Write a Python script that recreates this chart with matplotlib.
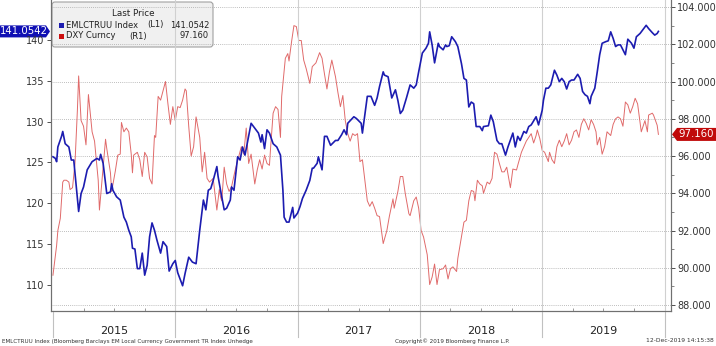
import matplotlib

matplotlib.use("Agg")
import matplotlib.pyplot as plt
from matplotlib.patches import FancyBboxPatch, Polygon
from matplotlib.ticker import FixedLocator, FormatStrFormatter, MultipleLocator

# weekly-ish readings, x in decimal years
emlctruu = [
    (2015.00, 125.7), (2015.02, 125.5), (2015.03, 125.1), (2015.04, 126.9), (2015.07, 128.2),
    (2015.08, 128.8), (2015.10, 127.3), (2015.13, 126.9), (2015.15, 125.3), (2015.17, 125.3),
    (2015.21, 119.0), (2015.23, 121.2), (2015.25, 122.0), (2015.28, 124.1), (2015.32, 125.1),
    (2015.36, 125.5), (2015.38, 125.3), (2015.39, 126.0), (2015.41, 124.9), (2015.44, 121.2),
    (2015.47, 121.4), (2015.48, 122.4), (2015.49, 121.6), (2015.52, 120.8), (2015.55, 120.4),
    (2015.58, 118.3), (2015.60, 117.7), (2015.62, 116.7), (2015.64, 115.9), (2015.65, 114.5),
    (2015.67, 114.4), (2015.69, 112.0), (2015.71, 112.0), (2015.73, 113.9), (2015.75, 111.2),
    (2015.77, 112.4), (2015.79, 115.9), (2015.81, 117.6), (2015.83, 116.7), (2015.85, 115.5),
    (2015.88, 113.9), (2015.90, 115.3), (2015.93, 114.7), (2015.95, 111.7), (2015.98, 112.6),
    (2016.00, 113.0), (2016.02, 111.5), (2016.06, 109.9), (2016.08, 111.4), (2016.11, 113.4),
    (2016.14, 112.8), (2016.17, 112.6), (2016.20, 116.7), (2016.23, 120.4), (2016.25, 119.2),
    (2016.27, 121.6), (2016.29, 121.8), (2016.31, 122.8), (2016.34, 124.5), (2016.35, 123.3),
    (2016.37, 121.6), (2016.40, 119.2), (2016.42, 119.4), (2016.45, 120.4), (2016.46, 122.0),
    (2016.48, 121.6), (2016.51, 125.7), (2016.53, 125.3), (2016.55, 126.9), (2016.57, 125.9),
    (2016.60, 128.2), (2016.62, 129.8), (2016.65, 129.2), (2016.68, 128.6), (2016.70, 127.5),
    (2016.71, 128.4), (2016.73, 126.7), (2016.75, 129.0), (2016.77, 128.6), (2016.80, 127.3),
    (2016.83, 126.9), (2016.86, 125.9), (2016.88, 121.6), (2016.89, 118.3), (2016.91, 117.7),
    (2016.93, 117.7), (2016.96, 119.5), (2016.97, 118.2), (2017.00, 118.8), (2017.02, 119.6),
    (2017.04, 120.6), (2017.07, 121.6), (2017.10, 122.8), (2017.12, 124.3), (2017.13, 124.3),
    (2017.16, 124.9), (2017.17, 125.7), (2017.20, 124.1), (2017.22, 128.2), (2017.24, 128.2),
    (2017.27, 127.1), (2017.31, 127.7), (2017.33, 127.7), (2017.36, 128.4), (2017.38, 129.0),
    (2017.40, 128.4), (2017.41, 129.8), (2017.46, 130.6), (2017.48, 130.4), (2017.52, 129.8),
    (2017.53, 128.6), (2017.57, 133.1), (2017.60, 133.1), (2017.63, 132.0), (2017.65, 132.9),
    (2017.67, 134.3), (2017.70, 136.1), (2017.71, 135.7), (2017.74, 135.5), (2017.77, 132.9),
    (2017.80, 133.9), (2017.82, 132.6), (2017.84, 131.0), (2017.86, 131.4), (2017.89, 132.9),
    (2017.92, 134.5), (2017.95, 134.1), (2017.97, 134.5), (2017.99, 136.1), (2018.02, 138.4),
    (2018.05, 139.0), (2018.07, 139.6), (2018.08, 141.0), (2018.10, 139.4), (2018.12, 137.2),
    (2018.15, 139.6), (2018.16, 139.2), (2018.19, 138.8), (2018.21, 139.4), (2018.22, 139.2),
    (2018.24, 139.3), (2018.26, 140.4), (2018.29, 139.8), (2018.31, 139.2), (2018.34, 137.1),
    (2018.36, 135.3), (2018.38, 135.1), (2018.40, 131.8), (2018.42, 132.4), (2018.44, 132.2),
    (2018.46, 129.4), (2018.49, 129.4), (2018.51, 128.9), (2018.52, 129.4), (2018.56, 129.5),
    (2018.58, 130.8), (2018.60, 130.0), (2018.63, 127.7), (2018.65, 127.3), (2018.67, 127.3),
    (2018.70, 125.9), (2018.72, 126.9), (2018.76, 128.6), (2018.78, 126.9), (2018.80, 128.2),
    (2018.82, 127.7), (2018.85, 128.8), (2018.87, 128.6), (2018.89, 129.4), (2018.91, 129.6),
    (2018.95, 130.6), (2018.97, 129.6), (2019.00, 131.4), (2019.01, 132.6), (2019.03, 134.1),
    (2019.05, 134.1), (2019.07, 134.5), (2019.10, 136.3), (2019.12, 135.7), (2019.14, 134.9),
    (2019.16, 135.3), (2019.18, 134.9), (2019.20, 134.0), (2019.22, 134.9), (2019.24, 135.1),
    (2019.26, 135.1), (2019.29, 135.8), (2019.31, 135.3), (2019.33, 133.7), (2019.35, 133.3),
    (2019.37, 133.1), (2019.39, 132.2), (2019.40, 133.1), (2019.43, 134.1), (2019.45, 136.1),
    (2019.47, 138.2), (2019.49, 139.6), (2019.52, 139.8), (2019.54, 139.9), (2019.56, 141.0),
    (2019.58, 140.2), (2019.60, 139.2), (2019.62, 139.4), (2019.64, 139.4), (2019.66, 138.8),
    (2019.68, 138.2), (2019.70, 140.1), (2019.73, 139.6), (2019.75, 139.0), (2019.77, 140.4),
    (2019.80, 140.8), (2019.83, 141.4), (2019.85, 141.8), (2019.87, 141.4), (2019.90, 140.9),
    (2019.92, 140.6), (2019.94, 140.8), (2019.95, 141.0542),
]

dxy = [
    (2015.00, 89.6), (2015.03, 91.2), (2015.04, 92.0), (2015.06, 92.65), (2015.08, 94.6),
    (2015.09, 94.7), (2015.11, 94.7), (2015.13, 94.6), (2015.14, 94.2), (2015.16, 94.3),
    (2015.18, 95.6), (2015.20, 98.5), (2015.21, 100.3), (2015.23, 97.9), (2015.25, 97.6),
    (2015.27, 96.6), (2015.29, 99.3), (2015.31, 98.0), (2015.32, 97.3), (2015.34, 96.8),
    (2015.36, 95.4), (2015.37, 94.7), (2015.38, 93.1), (2015.40, 94.6), (2015.43, 96.9),
    (2015.44, 96.4), (2015.47, 95.1), (2015.48, 94.1), (2015.51, 95.2), (2015.53, 96.05),
    (2015.55, 96.1), (2015.56, 97.8), (2015.58, 97.3), (2015.60, 97.5), (2015.62, 97.3),
    (2015.64, 96.1), (2015.65, 95.1), (2015.66, 96.05), (2015.69, 96.2), (2015.71, 95.8),
    (2015.73, 94.9), (2015.75, 96.2), (2015.77, 95.95), (2015.79, 94.8), (2015.81, 94.5),
    (2015.83, 97.1), (2015.84, 97.0), (2015.86, 99.2), (2015.88, 99.0), (2015.90, 99.5),
    (2015.92, 100.0), (2015.94, 98.8), (2015.96, 97.7), (2015.98, 98.65), (2016.00, 97.9),
    (2016.02, 98.65), (2016.04, 98.6), (2016.06, 99.0), (2016.08, 99.6), (2016.09, 99.5),
    (2016.11, 97.6), (2016.13, 96.0), (2016.15, 96.5), (2016.17, 98.1), (2016.20, 97.0),
    (2016.22, 95.15), (2016.24, 96.2), (2016.26, 94.8), (2016.28, 94.6), (2016.31, 94.8),
    (2016.34, 93.1), (2016.36, 94.2), (2016.37, 93.8), (2016.38, 93.6), (2016.40, 95.4),
    (2016.42, 94.5), (2016.44, 94.1), (2016.46, 94.35), (2016.49, 95.25), (2016.52, 96.0),
    (2016.54, 96.5), (2016.56, 96.1), (2016.58, 97.5), (2016.60, 95.6), (2016.62, 96.1),
    (2016.65, 94.5), (2016.67, 95.25), (2016.69, 95.8), (2016.71, 95.3), (2016.73, 96.05),
    (2016.75, 95.6), (2016.77, 95.5), (2016.78, 96.5), (2016.80, 98.3), (2016.82, 98.65),
    (2016.84, 98.5), (2016.86, 97.0), (2016.87, 99.2), (2016.90, 101.25), (2016.92, 101.5),
    (2016.93, 101.1), (2016.95, 102.1), (2016.97, 103.0), (2016.99, 102.95), (2017.01, 102.2),
    (2017.03, 102.2), (2017.05, 101.15), (2017.07, 100.7), (2017.10, 99.9), (2017.12, 100.8),
    (2017.15, 101.0), (2017.18, 101.55), (2017.20, 101.25), (2017.22, 100.4), (2017.24, 99.6),
    (2017.26, 100.5), (2017.28, 101.15), (2017.31, 100.25), (2017.33, 99.4), (2017.35, 98.65),
    (2017.37, 99.25), (2017.39, 97.9), (2017.41, 97.2), (2017.43, 96.8), (2017.45, 97.2),
    (2017.47, 97.1), (2017.49, 97.2), (2017.51, 95.7), (2017.53, 95.8), (2017.55, 94.7),
    (2017.57, 93.6), (2017.59, 93.3), (2017.61, 93.55), (2017.63, 93.2), (2017.65, 92.8),
    (2017.67, 92.75), (2017.70, 91.3), (2017.73, 92.0), (2017.75, 92.75), (2017.78, 93.7),
    (2017.79, 93.2), (2017.82, 94.1), (2017.84, 94.9), (2017.86, 94.9), (2017.88, 94.0),
    (2017.91, 92.9), (2017.92, 92.8), (2017.95, 93.6), (2017.97, 93.8), (2017.99, 93.2),
    (2018.01, 92.0), (2018.03, 91.65), (2018.06, 90.7), (2018.08, 89.1), (2018.10, 89.5),
    (2018.12, 90.2), (2018.14, 89.1), (2018.16, 89.9), (2018.19, 89.95), (2018.21, 90.15),
    (2018.23, 89.4), (2018.25, 89.95), (2018.27, 90.05), (2018.30, 89.8), (2018.31, 90.5),
    (2018.34, 91.65), (2018.36, 92.45), (2018.38, 92.55), (2018.40, 93.6), (2018.42, 94.15),
    (2018.44, 94.1), (2018.45, 93.6), (2018.47, 94.7), (2018.49, 94.5), (2018.51, 94.4),
    (2018.52, 94.0), (2018.55, 94.6), (2018.57, 94.5), (2018.59, 94.8), (2018.61, 96.2),
    (2018.63, 96.1), (2018.65, 95.6), (2018.67, 95.15), (2018.69, 95.15), (2018.71, 95.4),
    (2018.74, 94.3), (2018.76, 95.3), (2018.79, 95.25), (2018.80, 95.5), (2018.83, 96.2),
    (2018.85, 96.5), (2018.87, 96.8), (2018.89, 97.0), (2018.91, 97.2), (2018.93, 96.7),
    (2018.95, 97.1), (2018.96, 97.4), (2018.98, 96.95), (2019.00, 96.3), (2019.02, 96.2),
    (2019.05, 95.7), (2019.06, 96.2), (2019.08, 95.8), (2019.10, 95.6), (2019.12, 96.5),
    (2019.14, 96.85), (2019.16, 96.5), (2019.18, 96.8), (2019.20, 97.2), (2019.22, 96.6),
    (2019.24, 96.85), (2019.26, 97.3), (2019.28, 97.4), (2019.30, 97.0), (2019.32, 97.7),
    (2019.34, 98.0), (2019.36, 97.75), (2019.38, 97.4), (2019.40, 97.95), (2019.42, 97.7),
    (2019.44, 97.3), (2019.45, 96.6), (2019.47, 97.0), (2019.49, 96.1), (2019.51, 96.5),
    (2019.53, 97.3), (2019.56, 97.1), (2019.58, 97.7), (2019.60, 98.0), (2019.62, 98.1),
    (2019.64, 98.0), (2019.66, 97.6), (2019.68, 98.9), (2019.70, 98.75), (2019.72, 98.3),
    (2019.74, 98.65), (2019.76, 99.1), (2019.78, 98.8), (2019.79, 98.3), (2019.81, 97.3),
    (2019.84, 97.9), (2019.86, 97.3), (2019.87, 98.2), (2019.90, 98.3), (2019.91, 98.2),
    (2019.94, 97.65), (2019.95, 97.16),
]

years = [2015, 2016, 2017, 2018, 2019]
left_ticks = [110, 115, 120, 125, 130, 135, 140]
right_ticks = [88, 90, 92, 94, 96, 98, 100, 102, 104]

BLUE = "#1c1cb0"
RED = "#e06a6a"
TAG_BLUE = "#1010b4"
TAG_RED = "#c00a0a"
W, H = 716, 346

fig = plt.figure(figsize=(W / 100, H / 100), dpi=100)
ax = fig.add_axes([51 / W, 35 / H, 620 / W, 311 / H])
ax2 = ax.twinx()
ax.set_zorder(2)
ax2.set_zorder(1)
ax.patch.set_visible(False)

bt, bv = zip(*emlctruu)
rt, rv = zip(*dxy)
ax2.plot(rt, rv, color=RED, lw=0.7)
ax.plot(bt, bv, color=BLUE, lw=1.2)

ax.set_xlim(2014.984, 2020.053)
ax.set_ylim(106.81, 144.9)
ax2.set_ylim(87.68, 104.376)

# horizontal grid follows the right axis
ax2.yaxis.set_major_locator(FixedLocator(right_ticks))
ax2.yaxis.set_minor_locator(MultipleLocator(1))
ax2.yaxis.set_major_formatter(FormatStrFormatter("%.3f"))
ax2.grid(axis="y", color="#a8a8a8", lw=0.6, linestyle=(0, (1, 1.5)))
for y in years[1:] + [2020]:
    ax.axvline(y, color="#d0d0d0", lw=0.8, zorder=0)

ax.yaxis.set_major_locator(FixedLocator(left_ticks))
ax.xaxis.set_major_locator(FixedLocator(years + [2020]))
ax.xaxis.set_minor_locator(MultipleLocator(0.25))
ax.tick_params(axis="x", which="both", labelbottom=False, length=0)
ax.tick_params(axis="x", which="minor", direction="in", length=2.5, color="#888888")
ax.tick_params(axis="y", labelsize=7, colors="#333333", length=3, width=0.6, pad=1.5)
ax2.tick_params(axis="y", which="major", labelsize=7, colors="#333333", length=3, width=0.6, pad=1.5)
ax2.tick_params(axis="y", which="minor", length=2, width=0.5, colors="#555555")

for a in (ax, ax2):
    a.spines["top"].set_visible(False)
    for s in ("left", "right", "bottom"):
        a.spines[s].set_color("#707070")
        a.spines[s].set_linewidth(0.8)

# year band labels and separators below the axis
xt = ax.get_xaxis_transform()
for y in years + [2020]:
    ax.plot([y, y], [0, -0.082], color="#c0c0c0", lw=0.8, transform=xt, clip_on=False)
for y in years:
    ax.text(y + 0.5, -0.064, str(y), transform=xt, ha="center", va="center",
            fontsize=8, color="#222222")

# price tags on both axes
fig.canvas.draw()
px, py = ax.get_yaxis_transform().transform((0, bv[-1]))
fig.add_artist(Polygon([(px - 1, py), (px - 5, py + 6), (px - 51, py + 6), (px - 51, py - 6),
                        (px - 5, py - 6)], closed=True, fc=TAG_BLUE, ec="none", transform=None))
fig.text((px - 27) / W, py / H, "141.0542", color="white", fontsize=7.3, ha="center", va="center")
qx, qy = ax2.get_yaxis_transform().transform((1, rv[-1]))
fig.add_artist(Polygon([(qx + 1, qy), (qx + 6, qy + 6.5), (qx + 46, qy + 6.5), (qx + 46, qy - 6.5),
                        (qx + 6, qy - 6.5)], closed=True, fc=TAG_RED, ec="none", transform=None))
fig.text((qx + 25) / W, qy / H, "97.160", color="white", fontsize=7.3, ha="center", va="center")

# legend box
fig.add_artist(FancyBboxPatch((52, H - 47), 161, 45, boxstyle="round,pad=0,rounding_size=3",
                              fc="#f0f0f0", ec="#a0a0a0", lw=0.8, transform=None))
fig.text(133 / W, 1 - 13 / H, "Last Price", fontsize=6.3, ha="center", va="center", color="#222222")
rows = [("EMLCTRUU Index", "(L1)", 147, "141.0542", BLUE, 25),
        ("DXY Curncy", "(R1)", 129, "97.160", "#cc1010", 36)]
for name, side, side_x, val, col, yy in rows:
    fig.add_artist(plt.Rectangle((59, H - yy - 2.5), 5, 5, fc=col, ec="none", transform=None))
    fig.text(66 / W, 1 - yy / H, name, fontsize=6, ha="left", va="center", color="#222222")
    fig.text(side_x / W, 1 - yy / H, side, fontsize=6, ha="left", va="center", color="#222222")
    fig.text(209 / W, 1 - yy / H, val, fontsize=6, ha="right", va="center", color="#222222")

# footer
fig.text(2 / W, 5 / H, "EMLCTRUU Index (Bloomberg Barclays EM Local Currency Government TR Index Unhedge",
         fontsize=4.1, color="#333333", va="center")
fig.text(452 / W, 5 / H, "Copyright\u00a9 2019 Bloomberg Finance L.P.", fontsize=4.1,
         color="#333333", ha="center", va="center")
fig.text(714 / W, 5 / H, "12-Dec-2019 14:15:38", fontsize=4.3, color="#333333", ha="right", va="center")

fig.savefig("out.png", dpi=100)
